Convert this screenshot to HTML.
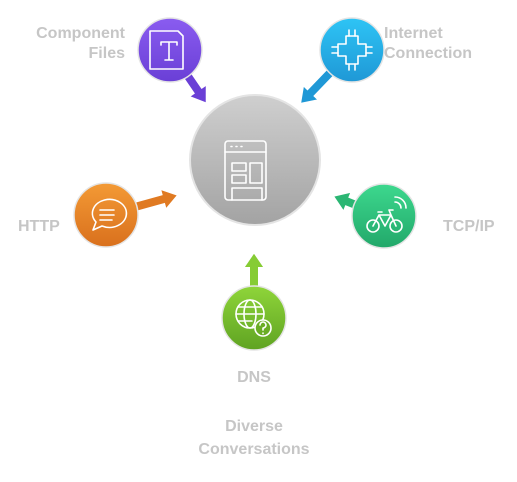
<!DOCTYPE html>
<html><head><style>
html,body{margin:0;padding:0;background:#fff;}
svg{display:block;}
text{font-family:"Liberation Sans",sans-serif;fill:#c6c6c6;font-size:16px;font-weight:bold;}
</style></head><body>
<svg width="517" height="482" viewBox="0 0 517 482" xmlns="http://www.w3.org/2000/svg">
<defs>
<linearGradient id="gg" x1="0" y1="0" x2="0" y2="1"><stop offset="0" stop-color="#cfcfcf"/><stop offset="1" stop-color="#a3a3a3"/></linearGradient>
<linearGradient id="gp" x1="0" y1="0" x2="0" y2="1"><stop offset="0" stop-color="#8a5cf0"/><stop offset="1" stop-color="#6a3fd6"/></linearGradient>
<linearGradient id="gb" x1="0" y1="0" x2="0" y2="1"><stop offset="0" stop-color="#2ec4f5"/><stop offset="1" stop-color="#1f98d6"/></linearGradient>
<linearGradient id="go" x1="0" y1="0" x2="0" y2="1"><stop offset="0" stop-color="#f39a35"/><stop offset="1" stop-color="#d9701d"/></linearGradient>
<linearGradient id="gt" x1="0" y1="0" x2="0" y2="1"><stop offset="0" stop-color="#3dd88e"/><stop offset="1" stop-color="#22a86a"/></linearGradient>
<linearGradient id="gl" x1="0" y1="0" x2="0" y2="1"><stop offset="0" stop-color="#8fd53a"/><stop offset="1" stop-color="#5fa322"/></linearGradient>
</defs>
<g stroke="#fff" stroke-width="2" stroke-linejoin="miter">
<polygon transform="translate(170,50) rotate(55.6)" points="0,-5 49,-5 49,-11 65,0 49,11 49,5 0,5" fill="#6a3fd6"/>
<polygon transform="translate(352,50) rotate(133.9)" points="0,-5 59,-5 59,-11 75,0 59,11 59,5 0,5" fill="#1f98d6"/>
<polygon transform="translate(106,215) rotate(-15.5)" points="0,-5 59,-5 59,-11 75,0 59,11 59,5 0,5" fill="#e07a22"/>
<polygon transform="translate(384,216) rotate(201.4)" points="0,-5 39,-5 39,-11 55,0 39,11 39,5 0,5" fill="#2bb673"/>
<polygon transform="translate(254,318) rotate(-90)" points="0,-5 50,-5 50,-11 66,0 50,11 50,5 0,5" fill="#86cc34"/>
</g>
<circle cx="255" cy="160" r="65" fill="url(#gg)" stroke="#e4e4e4" stroke-width="2"/>
<circle cx="170" cy="50" r="32" fill="url(#gp)" stroke="#e4e4e4" stroke-width="1.5"/>
<circle cx="352" cy="50" r="32" fill="url(#gb)" stroke="#e4e4e4" stroke-width="1.5"/>
<circle cx="106" cy="215" r="32" fill="url(#go)" stroke="#e4e4e4" stroke-width="1.5"/>
<circle cx="384" cy="216" r="32" fill="url(#gt)" stroke="#e4e4e4" stroke-width="1.5"/>
<circle cx="254" cy="318" r="32" fill="url(#gl)" stroke="#e4e4e4" stroke-width="1.5"/>
<g fill="none" stroke="#fff" stroke-width="1.6" stroke-linejoin="round" stroke-linecap="round">
<rect x="225" y="141" width="41" height="59" rx="3"/>
<line x1="225" y1="152" x2="266" y2="152"/>
<path d="M231 146.5 h1 M236 146.5 h1 M241 146.5 h1"/>
<rect x="232" y="163" width="14" height="8"/><rect x="232" y="175" width="14" height="8"/><rect x="250" y="163" width="12" height="20"/>
<polyline points="232,200 232,188 262,188 262,200"/>
<path d="M150 31 h28 l5 5 v33 h-33 z"/>
<path d="M161 42 h16 M161 42 v3 M177 42 v3 M169 42 v18 M165 60 h8"/>
<path d="M346 36 h12 v8 h8 v12 h-8 v8 h-12 v-8 h-8 v-12 h8 z"/>
<path d="M349 36 v-6 M355 36 v-6 M349 64 v6 M355 64 v6 M338 47 h-6 M338 53 h-6 M366 47 h6 M366 53 h6"/>
<path d="M93 230 l3 -8 a17 14 0 1 1 6 4 z"/>
<path d="M100 210 h14 M100 215 h14 M100 220 h12"/>
<circle cx="373" cy="226" r="6"/><circle cx="396" cy="226" r="6"/>
<path d="M373 226 l6 -11 h12 l5 11 M379 215 l6 11 l6 -11 M378 212 h4 M391 215 l-2 -5 h4"/>
<path d="M395 202 a6 6 0 0 1 6 6 M395 197 a11 11 0 0 1 11 11"/>
<circle cx="250" cy="314" r="14"/>
<ellipse cx="250" cy="314" rx="6" ry="14"/>
<path d="M236 314 h28 M238 307 h24 M238 321 h14"/>
<circle cx="263" cy="328" r="8" fill="#6aad25"/>
<path d="M260 325 a3 3 0 1 1 3 3 v2 M263 333 v0.5"/>
</g>
<text x="125" y="38" text-anchor="end">Component</text>
<text x="125" y="58" text-anchor="end">Files</text>
<text x="384" y="38">Internet</text>
<text x="384" y="58">Connection</text>
<text x="18" y="231">HTTP</text>
<text x="443" y="231">TCP/IP</text>
<text x="254" y="382" text-anchor="middle">DNS</text>
<text x="254" y="431" text-anchor="middle">Diverse</text>
<text x="254" y="454" text-anchor="middle">Conversations</text>
</svg>
</body></html>
